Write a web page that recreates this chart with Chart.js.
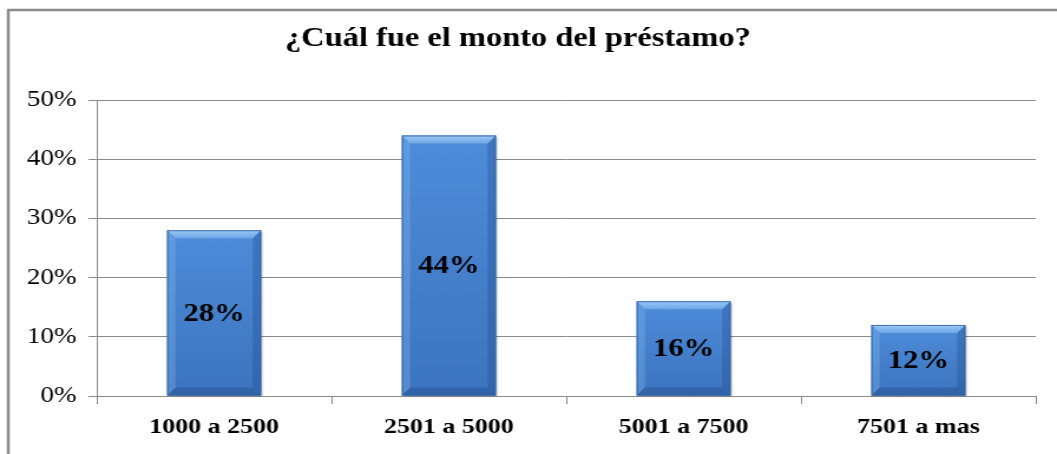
<!DOCTYPE html>
<html>
<head>
<meta charset="utf-8">
<script src="https://cdn.jsdelivr.net/npm/chart.js@4.4.1/dist/chart.umd.min.js"></script>
<style>
  html, body { margin: 0; padding: 0; background: #fff; }
  #chart { display: block; width: 1057px; height: 454px; }
</style>
</head>
<body>
<canvas id="chart" width="896" height="454" style="width:1057px;height:454px"></canvas>
<script>
const categories = ['1000 a 2500', '2501 a 5000', '5001 a 7500', '7501 a mas'];
const percentValues = [28, 44, 16, 12];
const yTicks = [0, 10, 20, 30, 40, 50];
const titleText = '¿Cuál fue el monto del préstamo?';

const serif = "'Liberation Serif', 'Times New Roman', serif";

// frame around the chart (only top and left are in the picture)
const framePlugin = {
    id: 'frame',
    beforeDraw(chart) {
        const ctx = chart.ctx;
        ctx.save();
        ctx.fillStyle = '#fff';
        ctx.fillRect(0, 0, chart.width, chart.height);
        ctx.strokeStyle = '#8a8a8a';
        ctx.lineWidth = 2.5;
        ctx.beginPath();
        ctx.moveTo(7, chart.height);
        ctx.lineTo(7, 10);
        ctx.lineTo(chart.width, 10);
        ctx.stroke();
        ctx.restore();
    }
};

// bevel look of the bars + the value labels
const bevelPlugin = {
    id: 'bevel',
    afterDatasetsDraw(chart) {
        const ctx = chart.ctx;
        const meta = chart.getDatasetMeta(0);
        meta.data.forEach((bar, i) => {
            const l = bar.x - bar.width / 2, r = bar.x + bar.width / 2;
            const t = bar.y, b = bar.base;
            const bx = 7, by = 8;
            ctx.save();
            // soft shadow
            ctx.fillStyle = 'rgba(0,0,0,0.12)';
            ctx.fillRect(l + 2, t + 2, r - l, b - t - 1);
            // face
            const g = ctx.createLinearGradient(0, t, 0, b);
            g.addColorStop(0, '#4e8cd9');
            g.addColorStop(1, '#3c74bf');
            ctx.fillStyle = g;
            ctx.fillRect(l, t, r - l, b - t);
            // top bevel
            const tg = ctx.createLinearGradient(0, t, 0, t + by);
            tg.addColorStop(0, '#9cc8f4');
            tg.addColorStop(1, '#6ea6e6');
            ctx.fillStyle = tg;
            ctx.beginPath();
            ctx.moveTo(l, t); ctx.lineTo(r, t); ctx.lineTo(r - bx, t + by); ctx.lineTo(l + bx, t + by); ctx.closePath();
            ctx.fill();
            // left bevel
            ctx.fillStyle = 'rgba(130,180,235,0.35)';
            ctx.beginPath();
            ctx.moveTo(l, t); ctx.lineTo(l + bx, t + by); ctx.lineTo(l + bx, b - by); ctx.lineTo(l, b); ctx.closePath();
            ctx.fill();
            // right bevel
            ctx.fillStyle = 'rgba(30,70,130,0.3)';
            ctx.beginPath();
            ctx.moveTo(r, t); ctx.lineTo(r - bx, t + by); ctx.lineTo(r - bx, b - by); ctx.lineTo(r, b); ctx.closePath();
            ctx.fill();
            // bottom bevel
            ctx.fillStyle = 'rgba(35,80,140,0.45)';
            ctx.beginPath();
            ctx.moveTo(l, b); ctx.lineTo(r, b); ctx.lineTo(r - bx, b - by); ctx.lineTo(l + bx, b - by); ctx.closePath();
            ctx.fill();
            ctx.strokeStyle = 'rgba(50,95,160,0.8)';
            ctx.lineWidth = 1;
            ctx.strokeRect(l + 0.5, t + 0.5, r - l - 1, b - t - 1);
            // value label
            ctx.fillStyle = '#000';
            ctx.font = "bold 26px " + serif;
            ctx.textAlign = 'center';
            ctx.textBaseline = 'middle';
            ctx.fillText(percentValues[i] + '%', bar.x, (t + b) / 2 + 1);
            ctx.restore();
        });
    }
};

const data = {
    labels: categories,
    datasets: [{
        data: percentValues,
        backgroundColor: '#4580cc',
        borderWidth: 0,
        barPercentage: 0.8,
        categoryPercentage: 0.5
    }]
};

const config = {
    type: 'bar',
    data: data,
    plugins: [framePlugin, bevelPlugin],
    options: {
        responsive: false,
        animation: false,
        devicePixelRatio: 1,
        layout: {
            padding: { top: 22, right: 18, bottom: 0, left: 0 }
        },
        plugins: {
            legend: { display: false },
            tooltip: { enabled: false },
            title: {
                display: true,
                text: titleText,
                color: '#000',
                font: { family: serif, size: 27.5, weight: 'bold' },
                padding: { top: 0, bottom: 45 }
            }
        },
        scales: {
            x: {
                grid: {
                    offset: true,
                    drawOnChartArea: false,
                    drawTicks: true,
                    tickLength: 8,
                    color: '#8a8a8a'
                },
                border: { color: '#8a8a8a', width: 1 },
                ticks: {
                    color: '#000',
                    padding: 10,
                    font: { family: serif, size: 22, weight: 'bold' }
                },
                afterFit(scale) { scale.height = 58; }
            },
            y: {
                min: 0,
                max: 50,
                afterBuildTicks(scale) {
                    scale.ticks = yTicks.map(v => ({ value: v }));
                },
                grid: {
                    color: '#8a8a8a',
                    tickLength: 7
                },
                border: { color: '#8a8a8a', width: 1 },
                ticks: {
                    color: '#000',
                    padding: 10,
                    font: { family: serif, size: 23 },
                    callback: v => v + '%'
                },
                afterFit(scale) { scale.width = 82; }
            }
        }
    }
};

const ctx = document.getElementById('chart').getContext('2d');
new Chart(ctx, config);
</script>
</body>
</html>
